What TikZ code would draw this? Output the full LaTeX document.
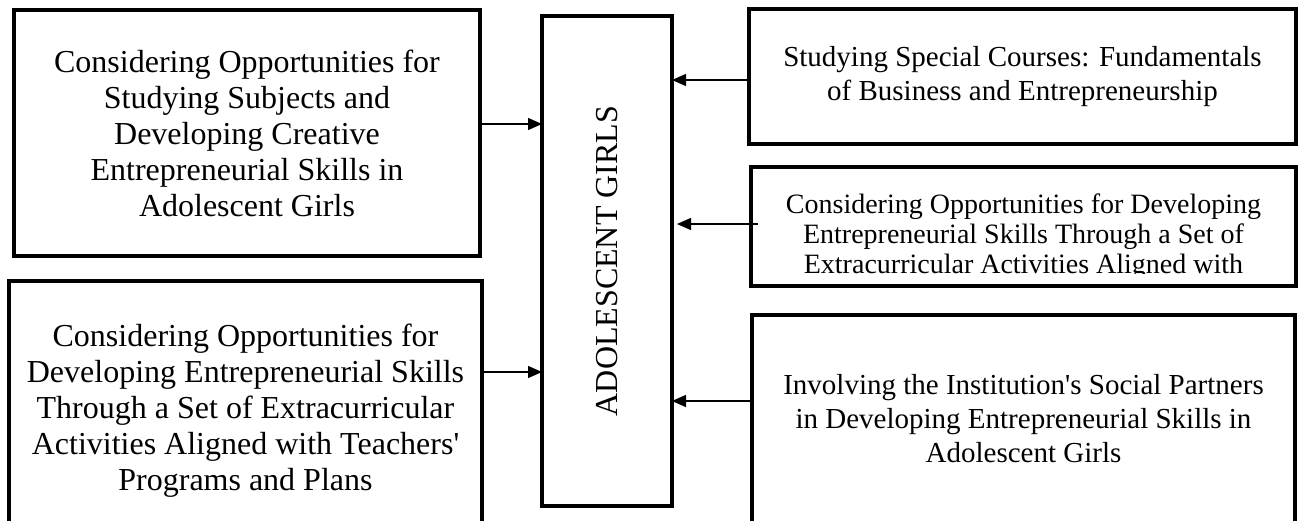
\documentclass[tikz,border=0pt]{standalone}
\usepackage{fontspec}
\setmainfont{Liberation Serif}
\usetikzlibrary{arrows.meta,positioning,calc}

\begin{document}
\begin{tikzpicture}[
    x=1pt, y=-1pt,
    card/.style={draw, line width=4pt, inner sep=0pt, outer sep=0pt, align=center},
    bigtext/.style={font=\fontsize{32}{36}\selectfont},
    midtext/.style={font=\fontsize{29}{34}\selectfont},
    smalltext/.style={font=\fontsize{28}{30}\selectfont},
    feed/.style={line width=1.3pt, -{Triangle[length=14pt, width=12pt]}}
]
\useasboundingbox (0,0) rectangle (1299,520);
\clip (0,0) rectangle (1299,520);

\node[card, minimum width=130pt, minimum height=490pt] (girls) at (607,261) {};
\node[bigtext, rotate=90, inner sep=0pt] (girlstext) at (girls.center) {ADOLESCENT GIRLS};

\node[card, bigtext, minimum width=466pt, minimum height=246pt] (subjects) at (247,133) {Considering Opportunities for\\Studying Subjects and\\Developing Creative\\Entrepreneurial Skills in\\Adolescent Girls};
\node[card, bigtext, minimum width=473pt, minimum height=259pt] (teachers) at (245.5,410.5) {Considering Opportunities for\\Developing Entrepreneurial Skills\\Through a Set of Extracurricular\\Activities Aligned with Teachers\textquotesingle\\Programs and Plans};

\node[card, midtext, minimum width=547pt, minimum height=135pt] (courses) at (1022.5,76.5) {Studying Special Courses: Fundamentals\\of Business and Entrepreneurship};
\node[card, minimum width=545pt, minimum height=119pt] (activities) at (1023.5,226.5) {};
\begin{scope}
\clip (activities.north west) rectangle (activities.east |- 0,273);
\node[smalltext, align=center, inner sep=0pt, anchor=north] (activitiestext) at (1023.5,194) {Considering Opportunities for Developing\\Entrepreneurial Skills Through a Set of\\Extracurricular Activities Aligned with};
\end{scope}
\node[card, midtext, minimum width=543pt, minimum height=208pt] (partners) at (1023.5,419) {Involving the Institution\textquotesingle s Social Partners\\in Developing Entrepreneurial Skills in\\Adolescent Girls};

\draw[feed] (subjects.east |- 0,124) -- (girls.west |- 0,124);
\draw[feed] (teachers.east |- 0,372) -- (girls.west |- 0,372);
\draw[feed] (courses.west |- 0,80) -- (girls.east |- 0,80);
\draw[feed, shorten <=-7pt, shorten >=5pt] (activities.west |- 0,224) -- (girls.east |- 0,224);
\draw[feed] (partners.west |- 0,401) -- (girls.east |- 0,401);

\end{tikzpicture}
\end{document}
